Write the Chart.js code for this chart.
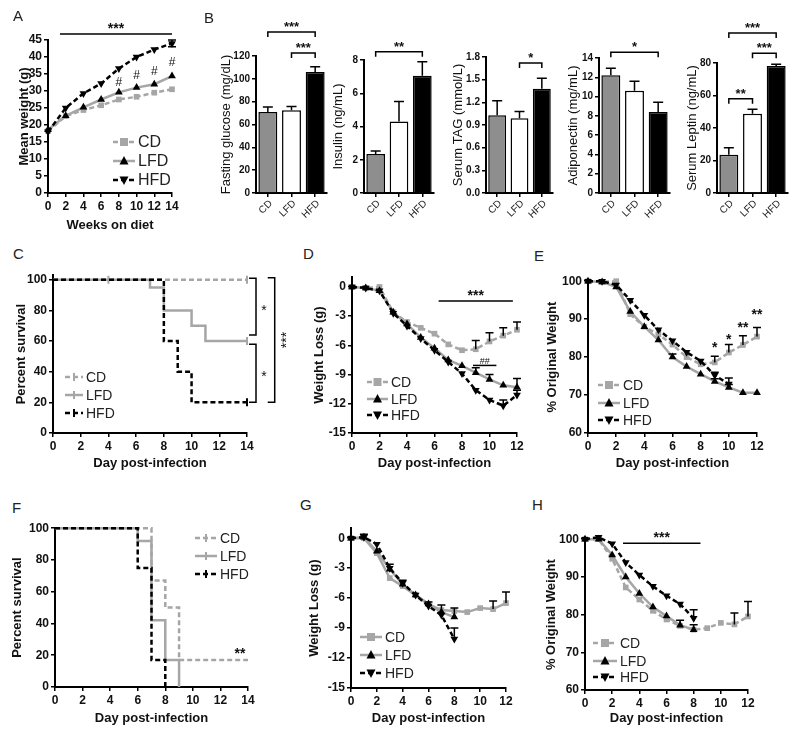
<!DOCTYPE html>
<html>
<head>
<meta charset="utf-8">
<script src="https://cdn.jsdelivr.net/npm/chart.js@4.4.1/dist/chart.umd.min.js"></script>
<style>
  html, body { margin: 0; padding: 0; background: #fff; }
  #fig { position: relative; width: 800px; height: 736px; overflow: hidden; }
  #fig canvas { position: absolute; }
  .letter { position: absolute; font: 15px "Liberation Sans", Arial, sans-serif; color: #222; line-height: 15px; }
</style>
</head>
<body>
<div id="fig"></div>
<script>
// ---- A: mean weight on diet
const weeks = [0, 2, 4, 6, 8, 10, 12, 14];
const weightCD = [18.2, 22.6, 24.4, 25.8, 27.5, 28.3, 29.5, 30.5];
const weightLFD = [18.6, 22.7, 25.2, 27.5, 29.6, 31.0, 32.0, 34.4];
const weightHFD = [18.0, 25.0, 29.3, 32.2, 36.6, 40.0, 42.2, 44.0];
const weightHFDErr = [0, 0, 0, 0, 0, 0, 0, 1.0];

// ---- B: serum measures
const diets = ['CD', 'LFD', 'HFD'];
const glucose = [71, 72.5, 106];
const glucoseErr = [4.3, 3.3, 4.5];
const insulin = [2.35, 4.3, 7.05];
const insulinErr = [0.18, 1.2, 0.85];
const tag = [1.03, 0.99, 1.38];
const tagErr = [0.19, 0.09, 0.14];
const adiponectin = [12.2, 10.6, 8.4];
const adiponectinErr = [0.75, 1.0, 1.0];
const leptin = [23.5, 48.8, 78.2];
const leptinErr = [4.3, 2.8, 1.0];

// ---- C: survival (days where the curve changes, value from that day on)
const survC_CDdays = [0, 4, 14],              survC_CD = [100, 100, 100];
const survC_LFDdays = [0, 7, 8, 10, 11, 14],  survC_LFD = [100, 95, 80, 70, 60, 60];
const survC_HFDdays = [0, 8, 9, 10, 14],      survC_HFD = [100, 60, 40, 20, 20];
const censorC_CD = [4, 14], censorC_LFD = [14], censorC_HFD = [14];

// ---- D / E: weight loss and % original weight
const days12 = [0, 1, 2, 3, 4, 5, 6, 7, 8, 9, 10, 11, 12];
const days10 = [0, 1, 2, 3, 4, 5, 6, 7, 8, 9, 10];
const days8 = [0, 1, 2, 3, 4, 5, 6, 7, 8];
const lossD_CD = [0, -0.1, 0, -2.6, -3.6, -4.2, -4.8, -5.9, -6.5, -6.4, -5.6, -5.0, -4.4];
const lossD_CDErr = [0, 0, 0, 0, 0, 0, 0, 0, 0, 0.9, 0.9, 0.8, 0.8];
const lossD_LFD = [0, -0.1, -0.4, -2.6, -3.8, -5.2, -6.3, -7.5, -8.1, -8.8, -9.5, -10.1, -10.3];
const lossD_LFDErr = [0, 0, 0, 0, 0, 0, 0, 0, 0, 0.5, 0.5, 0, 0.9];
const lossD_HFD = [0, -0.1, -0.4, -2.7, -4.0, -5.3, -6.5, -7.7, -8.9, -10.6, -11.6, -12.2, -11.1];
const lossD_HFDErr = [0, 0, 0, 0, 0, 0, 0, 0, 0, 0, 0, 0.6, 0.5];

const pctE_CD = [100, 99.8, 100, 91.3, 88, 86, 83.3, 80, 78.1, 78.6, 81.2, 83.2, 85.4];
const pctE_CDErr = [0, 0, 0, 0, 0, 0, 0, 0, 0, 1.6, 2.1, 2.4, 2.4];
const pctE_LFD = [100, 99.8, 98.5, 92, 88, 84.5, 80, 77.5, 75.5, 73.6, 72, 70.6, 70.6];
const pctE_LFDErr = [0, 0, 0, 0, 0, 0, 0.8, 0, 0, 0.7, 0.8, 0, 0];
const pctE_HFD = [100, 100, 99, 95, 91, 87.2, 84.3, 81.3, 79, 75.2, 72.9];
const pctE_HFDErr = [0, 0, 0, 0, 0, 0, 0, 0, 0, 0.8, 1.6];

// ---- F: survival
const survF_CDdays = [0, 7, 8, 9, 14],  survF_CD = [100, 67, 50, 17, 17];
const survF_LFDdays = [0, 6, 7, 8, 9],  survF_LFD = [100, 92, 42, 17, 0];
const survF_HFDdays = [0, 6, 7, 8],     survF_HFD = [100, 75, 17, 0];

// ---- G / H
const lossG_CD = [0, 0, -1.5, -4.0, -4.8, -5.7, -6.6, -7.2, -7.3, -7.4, -7.0, -7.1, -6.5];
const lossG_CDErr = [0, 0, 0, 0, 0, 0, 0, 0.5, 0, 0, 0, 0.8, 1.1];
const lossG_LFD = [0, 0.1, -1.3, -3.1, -4.6, -5.7, -6.6, -7.4, -7.9];
const lossG_LFDErr = [0, 0.3, 0, 0.5, 0.4, 0, 0, 0, 0.9];
const lossG_HFD = [0, 0.1, -0.6, -3.0, -4.5, -5.7, -6.8, -7.7, -10.1];
const lossG_HFDErr = [0, 0, 0, 0, 0, 0, 0.4, 0, 1.1];

const pctH_CD = [100, 100, 94.8, 87.2, 84, 81, 78.7, 77, 76, 76.4, 77.8, 77.4, 79.5];
const pctH_CDErr = [0, 0, 0, 0, 0, 0, 0, 0, 0, 0, 0, 3.0, 4.0];
const pctH_LFD = [100, 100, 95.8, 90, 85.6, 82, 79.6, 77.2, 76];
const pctH_LFDErr = [0, 0, 0, 0, 0, 0, 0, 1.3, 1.3];
const pctH_HFD = [100, 100.5, 98.8, 93.8, 90.5, 87.5, 85, 82.8, 79];
const pctH_HFDErr = [0, 0, 0, 0, 0, 0, 0, 0, 2.3];

const GREY = '#a6a6a6';
const BAR_GREY = '#8e8e8e';
const FONT = '"Liberation Sans", Arial, sans-serif';
Chart.defaults.font.family = FONT;
Chart.defaults.color = '#111';

const fig = document.getElementById('fig');
const xy = (xs, ys) => xs.map((x, i) => ({ x, y: ys[i] }));

function drawMark(ctx, mk, x, y, color) {
  ctx.fillStyle = color;
  ctx.strokeStyle = color;
  ctx.beginPath();
  if (mk === 'rect') {
    ctx.fillRect(x - 4, y - 4, 8, 8);
  } else if (mk === 'tri') {
    ctx.moveTo(x, y - 5); ctx.lineTo(x + 4.5, y + 3.5); ctx.lineTo(x - 4.5, y + 3.5); ctx.fill();
  } else if (mk === 'tridown') {
    ctx.moveTo(x, y + 5); ctx.lineTo(x + 4.5, y - 3.5); ctx.lineTo(x - 4.5, y - 3.5); ctx.fill();
  } else if (mk === 'tick') {
    ctx.lineWidth = 2; ctx.moveTo(x, y - 4); ctx.lineTo(x, y + 4); ctx.stroke();
  }
}

// error bars (upwards, or both ways with errBoth)
const errPlugin = {
  id: 'errbars',
  afterDatasetsDraw(chart) {
    const { ctx } = chart;
    const ys = chart.scales.y;
    chart.data.datasets.forEach((ds, i) => {
      if (!ds.err) return;
      const meta = chart.getDatasetMeta(i);
      const cap = chart.config.type === 'bar' ? 5 : 4;
      meta.data.forEach((el, j) => {
        const e = ds.err[j];
        if (!e) return;
        const v = typeof ds.data[j] === 'object' ? ds.data[j].y : ds.data[j];
        const top = ys.getPixelForValue(v + e);
        const bot = ds.errBoth ? ys.getPixelForValue(v - e) : el.y;
        ctx.save();
        ctx.strokeStyle = '#000';
        ctx.lineWidth = 1.5;
        ctx.beginPath();
        ctx.moveTo(el.x, bot); ctx.lineTo(el.x, top);
        ctx.moveTo(el.x - cap, top); ctx.lineTo(el.x + cap, top);
        if (ds.errBoth) { ctx.moveTo(el.x - cap, bot); ctx.lineTo(el.x + cap, bot); }
        ctx.stroke();
        ctx.restore();
      });
    });
  }
};

// significance lines, brackets, symbols, slanted category labels
const marksPlugin = {
  id: 'marks',
  afterDraw(chart, args, o) {
    const { ctx } = chart;
    const x = chart.scales.x, y = chart.scales.y;
    ctx.save();
    if (o.slant) {
      ctx.fillStyle = '#222';
      ctx.font = o.slant + 'px ' + FONT;
      ctx.textAlign = 'right';
      ctx.textBaseline = 'middle';
      chart.data.labels.forEach((lab, i) => {
        ctx.translate(x.getPixelForValue(i) + 3, y.bottom + 9);
        ctx.rotate(-Math.PI / 4);
        ctx.fillText(lab, 0, 0);
        ctx.setTransform(1, 0, 0, 1, 0, 0);
      });
    }
    ctx.strokeStyle = '#000';
    ctx.fillStyle = '#111';
    ctx.lineWidth = 1.5;
    ctx.textAlign = 'center';
    ctx.textBaseline = 'alphabetic';
    (o.items || []).forEach(m => {
      ctx.font = (m.bold === false ? '' : 'bold ') + (m.size || 13) + 'px ' + FONT;
      if (m.type === 'hline' || m.type === 'bracket') {
        const x0 = x.getPixelForValue(m.x0), x1 = x.getPixelForValue(m.x1), py = y.getPixelForValue(m.y);
        const drop = m.type === 'bracket' ? 5 : 0;
        ctx.beginPath();
        ctx.moveTo(x0, py + drop); ctx.lineTo(x0, py); ctx.lineTo(x1, py); ctx.lineTo(x1, py + drop);
        ctx.stroke();
        ctx.fillText(m.text, (x0 + x1) / 2, py - (m.gap || 1));
      } else if (m.type === 'vbracket') {
        const px = x.getPixelForValue(m.x), y0 = y.getPixelForValue(m.y0), y1 = y.getPixelForValue(m.y1);
        ctx.beginPath();
        ctx.moveTo(px - 7, y0); ctx.lineTo(px, y0); ctx.lineTo(px, y1); ctx.lineTo(px - 7, y1);
        ctx.stroke();
        const mid = (y0 + y1) / 2;
        if (m.rotate) {
          ctx.translate(px + 16, mid);
          ctx.rotate(-Math.PI / 2);
          ctx.fillText(m.text, 0, 0);
          ctx.setTransform(1, 0, 0, 1, 0, 0);
        } else {
          ctx.fillText(m.text, px + 8, mid + 8);
        }
      } else {
        ctx.fillText(m.text, x.getPixelForValue(m.x), y.getPixelForValue(m.y));
      }
    });
    ctx.restore();
  }
};

// hand-drawn legend: line + marker + label
const keyPlugin = {
  id: 'key',
  afterDraw(chart, args, o) {
    if (!o.rows) return;
    const { ctx } = chart;
    ctx.save();
    chart.data.datasets.forEach((ds, i) => {
      const x = o.x - o.ox, y = o.rows[i] - o.oy;
      ctx.strokeStyle = ds.borderColor;
      ctx.lineWidth = 2.5;
      ctx.setLineDash(ds.borderDash || []);
      ctx.beginPath(); ctx.moveTo(x, y); ctx.lineTo(x + o.len, y); ctx.stroke();
      ctx.setLineDash([]);
      drawMark(ctx, ds.mk, x + o.len / 2, y, ds.mkColor || ds.borderColor);
      ctx.fillStyle = '#222';
      ctx.font = o.size + 'px ' + FONT;
      ctx.textBaseline = 'middle';
      ctx.textAlign = 'left';
      ctx.fillText(ds.label, x + o.len + 3, y + 1);
    });
    ctx.restore();
  }
};

Chart.register(errPlugin, marksPlugin, keyPlugin);

const GRID = { drawOnChartArea: false, drawTicks: true, tickLength: 4, color: '#000', lineWidth: 1.5 };
const BORDER = { color: '#000', width: 2 };

function linAxis(min, max, step, title, size, titleSize, titleBold) {
  return {
    type: 'linear', min, max,
    grid: GRID, border: BORDER,
    ticks: { stepSize: step, includeBounds: false, autoSkip: false, maxRotation: 0,
      color: '#111', font: { weight: 'bold', size }, padding: 2 },
    title: title ? { display: true, text: title, color: '#111', padding: 0,
      font: { weight: titleBold === false ? 'normal' : 'bold', size: titleSize || 13 } } : { display: false }
  };
}

function makeChart(box, type, data, scales, plugins) {
  const canvas = document.createElement('canvas');
  const left = box.l - box.yw, top = box.t - box.pt;
  const w = box.r - left + box.pr, h = box.b - top + box.xh;
  canvas.width = w; canvas.height = h;
  canvas.style.left = left + 'px'; canvas.style.top = top + 'px';
  canvas.style.width = w + 'px'; canvas.style.height = h + 'px';
  fig.appendChild(canvas);
  scales.x.afterFit = s => { s.height = box.xh; };
  scales.y.afterFit = s => { s.width = box.yw; };
  plugins.legend = { display: false };
  plugins.tooltip = { enabled: false };
  if (plugins.key) { plugins.key.ox = left; plugins.key.oy = top; }
  return new Chart(canvas, {
    type, data,
    options: {
      responsive: false, animation: false, events: [], devicePixelRatio: 1,
      layout: { padding: { top: box.pt, right: box.pr, left: 0, bottom: 0 } },
      scales, plugins
    }
  });
}

// line datasets
function cdLine(xs, ys, err, solid) {
  return { label: 'CD', data: xy(xs, ys), err, order: 2, clip: false,
    borderColor: GREY, backgroundColor: GREY, borderWidth: 2.5, borderDash: solid ? [] : [5, 3],
    pointStyle: 'rect', pointRadius: 4, pointBorderWidth: 0, pointBackgroundColor: GREY, mk: 'rect' };
}
function lfdLine(xs, ys, err) {
  return { label: 'LFD', data: xy(xs, ys), err, order: 1, clip: false,
    borderColor: GREY, borderWidth: 2.5, borderDash: [],
    pointStyle: 'triangle', pointRadius: 4.5, pointBorderWidth: 0, pointBackgroundColor: '#000', mk: 'tri', mkColor: '#000' };
}
function hfdLine(xs, ys, err) {
  return { label: 'HFD', data: xy(xs, ys), err, order: 0, clip: false,
    borderColor: '#000', borderWidth: 2.5, borderDash: [5, 3],
    pointStyle: 'triangle', rotation: 180, pointRadius: 4.5, pointBorderWidth: 0, pointBackgroundColor: '#000', mk: 'tridown' };
}
function survLine(label, xs, ys, censor, color, dash, order) {
  return { label, data: xy(xs, ys), stepped: 'before', order, clip: false,
    borderColor: color, borderWidth: 2.5, borderDash: dash,
    pointStyle: 'line', rotation: 90, pointBorderColor: color, pointBorderWidth: 2,
    pointRadius: c => censor.includes(xs[c.dataIndex]) ? 4 : 0, mk: 'tick' };
}

// bar charts
function barPanel(box, vals, errs, max, step, title, items, fmt) {
  const y = linAxis(0, max, step, title, 10, 13, false);
  if (fmt) y.ticks.callback = fmt;
  const x = {
    type: 'category', offset: true,
    grid: Object.assign({}, GRID, { offset: false }), border: BORDER,
    ticks: { display: false }
  };
  makeChart(box, 'bar', {
    labels: diets,
    datasets: [{ data: vals, err: errs, backgroundColor: [BAR_GREY, '#fff', '#000'],
      borderColor: '#000', borderWidth: 1.5, barPercentage: 0.8, categoryPercentage: 1 }]
  }, { x, y }, { marks: { items, slant: 10 } });
}

// ---- A
makeChart({ l: 48, t: 40, r: 172, b: 193, yw: 31, xh: 40, pt: 34, pr: 14 }, 'line', {
  datasets: [cdLine(weeks, weightCD), lfdLine(weeks, weightLFD), Object.assign(hfdLine(weeks, weightHFD, weightHFDErr), { errBoth: true })]
}, {
  x: linAxis(0, 14, 2, 'Weeks on diet', 12),
  y: linAxis(0, 45, 5, 'Mean weight (g)', 12)
}, {
  marks: { items: [
    { type: 'hline', x0: 1.35, x1: 14, y: 46.8, text: '***', size: 14 },
    { x: 8, y: 31.4, text: '#', size: 12, bold: false },
    { x: 10, y: 33.4, text: '#', size: 12, bold: false },
    { x: 12, y: 34.8, text: '#', size: 12, bold: false },
    { x: 14, y: 37.3, text: '#', size: 12, bold: false }
  ] },
  key: { x: 113, len: 22, rows: [142, 161, 180], size: 16 }
});

// ---- B
barPanel({ l: 256, t: 56, r: 327, b: 193, yw: 37, xh: 32, pt: 44, pr: 8 }, glucose, glucoseErr, 120, 20,
  'Fasting glucose (mg/dL)', [
    { type: 'bracket', x0: 0, x1: 2, y: 141, text: '***' },
    { type: 'bracket', x0: 1, x1: 2, y: 122.6, text: '***' }
  ]);
barPanel({ l: 364, t: 60, r: 434, b: 193, yw: 33, xh: 32, pt: 48, pr: 8 }, insulin, insulinErr, 8, 2,
  'Insulin (ng/mL)', [{ type: 'bracket', x0: 0, x1: 2, y: 8.5, text: '**' }]);
barPanel({ l: 486, t: 57, r: 553, b: 193, yw: 35, xh: 32, pt: 45, pr: 8 }, tag, tagErr, 1.8, 0.3,
  'Serum TAG (mmol/L)', [{ type: 'bracket', x0: 1, x1: 2, y: 1.72, text: '*' }], v => v.toFixed(1));
barPanel({ l: 599, t: 58, r: 670, b: 193, yw: 33, xh: 32, pt: 46, pr: 8 }, adiponectin, adiponectinErr, 14, 2,
  'Adiponectin (mg/mL)', [{ type: 'bracket', x0: 0, x1: 2, y: 14.6, text: '*' }]);
barPanel({ l: 717, t: 63, r: 788, b: 193, yw: 32, xh: 32, pt: 51, pr: 8 }, leptin, leptinErr, 80, 20,
  'Serum Leptin (ng/mL)', [
    { type: 'bracket', x0: 0, x1: 2, y: 98.5, text: '***' },
    { type: 'bracket', x0: 1, x1: 2, y: 86, text: '***' },
    { type: 'bracket', x0: 0, x1: 1, y: 58, text: '**' }
  ]);

// ---- C
makeChart({ l: 53, t: 274, r: 247, b: 433, yw: 39, xh: 38, pt: 8, pr: 50 }, 'line', {
  datasets: [
    survLine('CD', survC_CDdays, survC_CD, censorC_CD, GREY, [5, 3], 2),
    survLine('LFD', survC_LFDdays, survC_LFD, censorC_LFD, GREY, [], 1),
    survLine('HFD', survC_HFDdays, survC_HFD, censorC_HFD, '#000', [5, 3], 0)
  ]
}, {
  x: linAxis(0, 14, 2, 'Day post-infection', 12),
  y: linAxis(0, 103, 20, 'Percent survival', 12)
}, {
  marks: { items: [
    { type: 'vbracket', x: 14.65, y0: 101, y1: 64, text: '*', size: 14, bold: false },
    { type: 'vbracket', x: 14.65, y0: 58, y1: 20, text: '*', size: 14, bold: false },
    { type: 'vbracket', x: 16.0, y0: 101.3, y1: 20.1, text: '***', size: 14, bold: false, rotate: true }
  ] },
  key: { x: 65, len: 18, rows: [377, 395, 413], size: 14 }
});

// ---- D
makeChart({ l: 352, t: 276, r: 517, b: 433, yw: 40, xh: 38, pt: 8, pr: 14 }, 'line', {
  datasets: [cdLine(days12, lossD_CD, lossD_CDErr), lfdLine(days12, lossD_LFD, lossD_LFDErr), hfdLine(days12, lossD_HFD, lossD_HFDErr)]
}, {
  x: linAxis(0, 12, 2, 'Day post-infection', 12),
  y: linAxis(-15, 1, 3, 'Weight Loss (g)', 12)
}, {
  marks: { items: [
    { type: 'hline', x0: 6.3, x1: 11.7, y: -1.45, text: '***', size: 14 },
    { type: 'hline', x0: 8.8, x1: 10.5, y: -8.06, text: '##', size: 9, bold: false }
  ] },
  key: { x: 367, len: 21, rows: [382, 399, 415], size: 14 }
});

// ---- E
makeChart({ l: 588, t: 280, r: 757, b: 433, yw: 43, xh: 38, pt: 8, pr: 22 }, 'line', {
  datasets: [cdLine(days12, pctE_CD, pctE_CDErr), lfdLine(days12, pctE_LFD, pctE_LFDErr), hfdLine(days10, pctE_HFD, pctE_HFDErr)]
}, {
  x: linAxis(0, 12, 2, 'Day post-infection', 12),
  y: linAxis(60, 100, 10, '% Original Weight', 12)
}, {
  marks: { items: [
    { x: 9, y: 81.4, text: '*', size: 14 },
    { x: 10, y: 83.5, text: '*', size: 14 },
    { x: 11, y: 86.7, text: '**', size: 14 },
    { x: 12, y: 90.1, text: '**', size: 14 }
  ] },
  key: { x: 598, len: 22, rows: [385, 403, 420], size: 14 }
});

// ---- F
makeChart({ l: 55, t: 527, r: 248, b: 687, yw: 45, xh: 39, pt: 8, pr: 14 }, 'line', {
  datasets: [
    survLine('CD', survF_CDdays, survF_CD, [], GREY, [5, 3], 2),
    survLine('LFD', survF_LFDdays, survF_LFD, [], GREY, [], 1),
    survLine('HFD', survF_HFDdays, survF_HFD, [], '#000', [5, 3], 0)
  ]
}, {
  x: linAxis(0, 14, 2, 'Day post-infection', 12),
  y: linAxis(0, 100, 20, 'Percent survival', 12)
}, {
  marks: { items: [{ x: 13.42, y: 18.1, text: '**', size: 14 }] },
  key: { x: 195, len: 22, rows: [538, 556, 574], size: 14 }
});

// ---- G
makeChart({ l: 351, t: 527, r: 506, b: 688, yw: 44, xh: 38, pt: 8, pr: 14 }, 'line', {
  datasets: [cdLine(days12, lossG_CD, lossG_CDErr, true), lfdLine(days8, lossG_LFD, lossG_LFDErr), hfdLine(days8, lossG_HFD, lossG_HFDErr)]
}, {
  x: linAxis(0, 12, 2, 'Day post-infection', 12),
  y: linAxis(-15, 1, 3, 'Weight Loss (g)', 12)
}, {
  key: { x: 360, len: 22, rows: [637, 655, 673], size: 14 }
});

// ---- H
makeChart({ l: 585, t: 538, r: 748, b: 690, yw: 41, xh: 36, pt: 8, pr: 14 }, 'line', {
  datasets: [cdLine(days12, pctH_CD, pctH_CDErr), lfdLine(days8, pctH_LFD, pctH_LFDErr), hfdLine(days8, pctH_HFD, pctH_HFDErr)]
}, {
  x: linAxis(0, 12, 2, 'Day post-infection', 12),
  y: linAxis(60, 100, 10, '% Original Weight', 12)
}, {
  marks: { items: [{ type: 'hline', x0: 2.8, x1: 8.5, y: 98.9, text: '***', size: 14 }] },
  key: { x: 593, len: 24, rows: [643, 661, 677], size: 14 }
});

// panel letters
[['A', 13, 8], ['B', 204, 10], ['C', 13, 246], ['D', 303, 246], ['E', 534, 248],
 ['F', 12, 500], ['G', 300, 497], ['H', 532, 497]].forEach(([t, x, y]) => {
  const d = document.createElement('div');
  d.className = 'letter';
  d.textContent = t;
  d.style.left = x + 'px';
  d.style.top = y + 'px';
  fig.appendChild(d);
});
</script>
</body>
</html>
